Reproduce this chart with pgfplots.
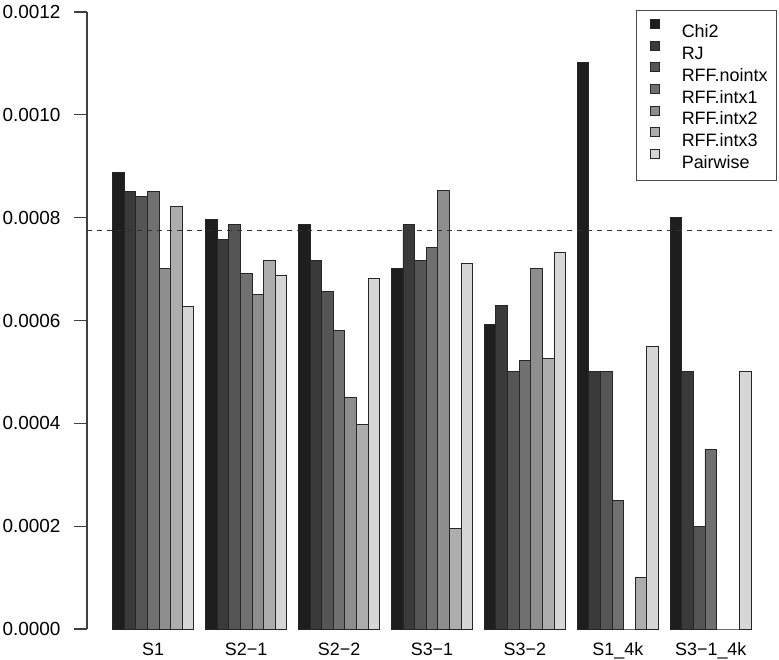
\documentclass[border=0pt]{standalone}
\usepackage{fontspec}
\setmainfont{Liberation Sans}
\usepackage{pgfplots}
\pgfplotsset{compat=1.18}
\definecolor{g1}{HTML}{1E1E1E}
\definecolor{g2}{HTML}{3A3A3A}
\definecolor{g3}{HTML}{555555}
\definecolor{g4}{HTML}{707070}
\definecolor{g5}{HTML}{8E8E8E}
\definecolor{g6}{HTML}{ADADAD}
\definecolor{g7}{HTML}{D6D6D6}
\pgfplotsset{
  mybar/.style={ybar, bar width=1, bar shift=0pt, draw=black!85, line width=0.9bp, fill=#1,
    legend image code/.code={\draw[draw=black!85, line width=0.9bp, fill=#1] (0bp,2bp) rectangle (9bp,11bp); \path (-4bp,0bp) (31bp,0bp);}},
}
\begin{document}
\begin{tikzpicture}
\useasboundingbox (-87bp,-31bp) rectangle (692bp,629bp);
\begin{axis}[
  at={(0,0)}, anchor=south west,
  scale only axis, width=690bp, height=617bp,
  xmin=-1.2, xmax=58.2, ymin=0, ymax=0.0012,
  axis y line*=left, axis x line*=bottom,
  x axis line style={draw=none},
  y axis line style={-, draw=black!75, line width=1.2bp},
  ytick={0,0.0002,0.0004,0.0006,0.0008,0.0010,0.0012},
  scaled y ticks=false,
  /pgf/number format/assume math mode=true,
  y tick label style={/pgf/number format/fixed, /pgf/number format/fixed zerofill, /pgf/number format/precision=4,
    font=\fontsize{19}{22}\selectfont, xshift=-10bp},
  xtick={4.5,12.5,20.5,28.5,36.5,44.5,52.5},
  xticklabels={S1,S2−1,S2−2,S3−1,S3−2,S1\_4k,S3−1\_4k},
  x tick label style={font=\fontsize{18}{22}\selectfont, yshift=3bp},
  major x tick style={draw=none},
  major y tick style={draw=black!75, line width=1.2bp},
  major tick length=13bp, tick align=outside,
  clip=false,
  legend cell align=left,
  legend style={at={(rel axis cs:1,1)}, anchor=north east, yshift=2bp,
    draw=black!70, line width=1bp, fill=white, inner xsep=9bp, inner ysep=5bp,
    row sep=-8.1bp, font=\fontsize{18}{22}\selectfont,
    nodes={inner sep=0pt, text height=22.5bp, text depth=7.3bp}},
]
\addplot[mybar=g1] coordinates {(1.5,0.000887) (9.5,0.000797) (17.5,0.000787) (25.5,0.000702) (33.5,0.000592) (41.5,0.001102) (49.5,0.000800)};
\addplot[mybar=g2] coordinates {(2.5,0.000851) (10.5,0.000757) (18.5,0.000716) (26.5,0.000787) (34.5,0.000629) (42.5,0.000500) (50.5,0.000500)};
\addplot[mybar=g3] coordinates {(3.5,0.000842) (11.5,0.000787) (19.5,0.000657) (27.5,0.000717) (35.5,0.000501) (43.5,0.000500) (51.5,0.000200)};
\addplot[mybar=g4] coordinates {(4.5,0.000851) (12.5,0.000691) (20.5,0.000581) (28.5,0.000742) (36.5,0.000522) (44.5,0.000250) (52.5,0.000350)};
\addplot[mybar=g5] coordinates {(5.5,0.000702) (13.5,0.000651) (21.5,0.000451) (29.5,0.000852) (37.5,0.000702) (45.5,0) (53.5,0)};
\addplot[mybar=g6] coordinates {(6.5,0.000822) (14.5,0.000717) (22.5,0.000397) (30.5,0.000196) (38.5,0.000527) (46.5,0.000100) (54.5,0)};
\addplot[mybar=g7] coordinates {(7.5,0.000627) (15.5,0.000687) (23.5,0.000682) (31.5,0.000711) (39.5,0.000732) (47.5,0.000550) (55.5,0.000500)};
\addplot[forget plot, draw=black!80, line width=1.1bp, dash pattern=on 5bp off 5bp] coordinates {(-1.2,0.000775) (58.2,0.000775)};
\legend{Chi2,RJ,RFF.nointx,RFF.intx1,RFF.intx2,RFF.intx3,Pairwise}
\end{axis}
\end{tikzpicture}
\end{document}
